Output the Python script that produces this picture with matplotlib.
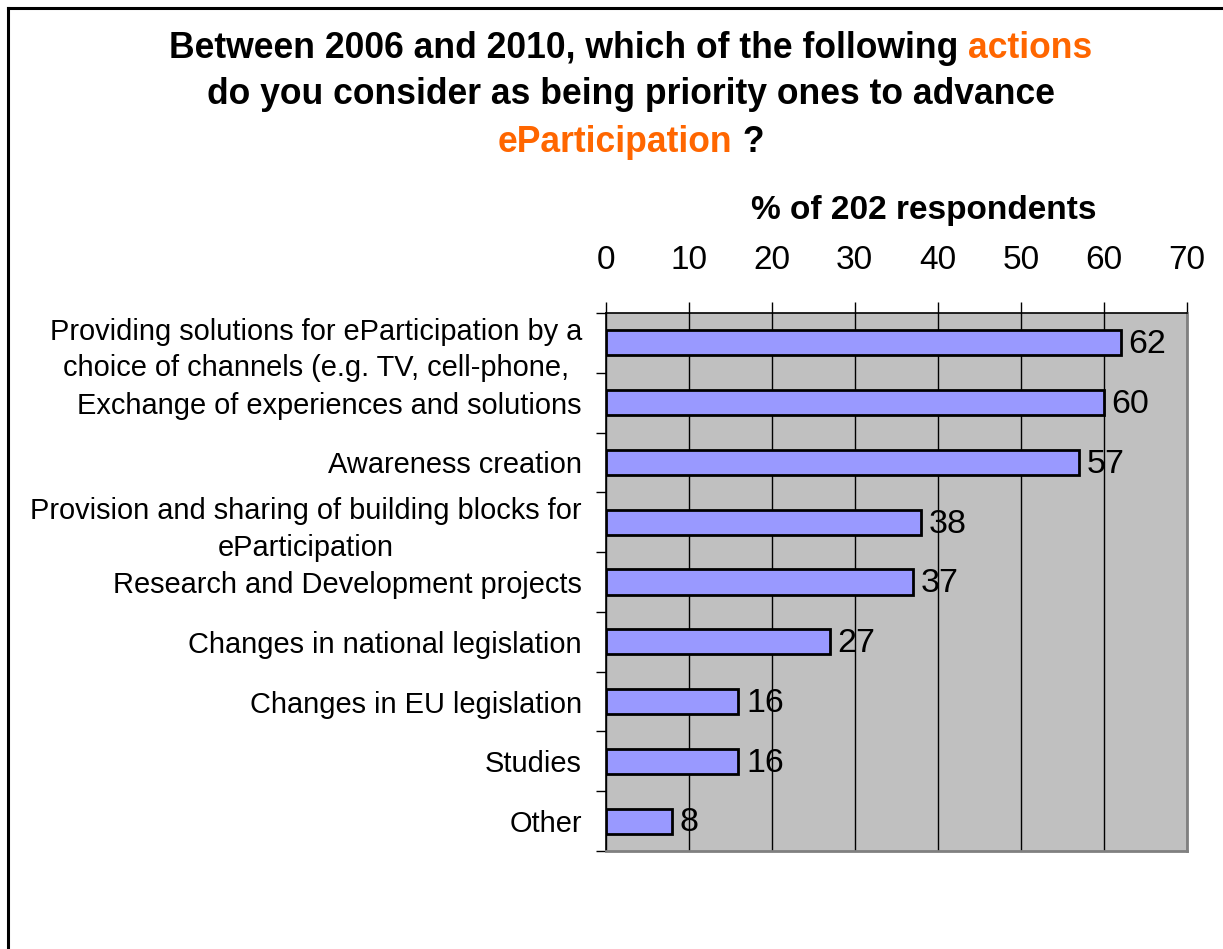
import numpy as np
import matplotlib
matplotlib.use("Agg")
import matplotlib.pyplot as plt
from matplotlib.lines import Line2D

plt.rcParams['font.family'] = ['Liberation Sans', 'DejaVu Sans']

categories = [
    "Providing solutions for eParticipation by a\nchoice of channels (e.g. TV, cell-phone,",
    "Exchange of experiences and solutions",
    "Awareness creation",
    "Provision and sharing of building blocks for\neParticipation",
    "Research and Development projects",
    "Changes in national legislation",
    "Changes in EU legislation",
    "Studies",
    "Other",
]
values = [62, 60, 57, 38, 37, 27, 16, 16, 8]
xticks = [0, 10, 20, 30, 40, 50, 60, 70]

title_lines = [
    [("Between 2006 and 2010, which of the following ", "black"), ("actions", "#FF6600")],
    [("do you consider as being priority ones to advance", "black")],
    [("eParticipation", "#FF6600"), (" ?", "black")],
]
xlabel = "% of 202 respondents"

W, H = 1223, 949
fig = plt.figure(figsize=(W / 100, H / 100), dpi=100)
fig.patch.set_facecolor("white")

# plot area in pixels
left, right, top, bottom = 605.5, 1187, 313, 851
ax = fig.add_axes([left / W, 1 - bottom / H, (right - left) / W, (bottom - top) / H])
ax.set_facecolor("#C0C0C0")

y = np.arange(len(categories))
ax.barh(y, values, height=0.42, color="#9999FF", edgecolor="black", linewidth=2, zorder=3)
for yi, v in zip(y, values):
    ax.text(v + 0.9, yi + 0.03, str(v), va="center", ha="left", fontsize=24.5, zorder=4)

ax.set_xlim(0, 70)
ax.set_ylim(len(categories) - 0.5, -0.5)
ax.set_xticks(xticks)
ax.xaxis.tick_top()
ax.tick_params(axis="x", which="major", length=8, width=1, pad=19, labelsize=24, direction="out")
ax.grid(axis="x", color="black", linewidth=1)
ax.set_axisbelow(True)

ax.set_yticks(y)
ax.set_yticklabels(categories, fontsize=20.9)
for lab in ax.get_yticklabels():
    lab.set_multialignment("center")
    lab.set_linespacing(1.39)
ax.tick_params(axis="y", which="major", length=0, pad=17)
ax.set_yticks(np.arange(-0.5, len(categories), 1), minor=True)
ax.tick_params(axis="y", which="minor", length=7, width=1, direction="out")

for s in ["top", "left"]:
    ax.spines[s].set_color("black")
    ax.spines[s].set_linewidth(1.2)
for s in ["right", "bottom"]:
    ax.spines[s].set_color("#808080")
    ax.spines[s].set_linewidth(2)

fig.text(924 / W, 1 - 211 / H, xlabel, ha="center", va="center", fontsize=24, fontweight="bold")

# title with coloured words
fig.canvas.draw()
renderer = fig.canvas.get_renderer()
cx = 631
for i, parts in enumerate(title_lines):
    ty = 1 - (48 + 47 * i) / H
    texts = [fig.text(0, ty, s, color=c, fontsize=25.6, fontweight="bold", va="center", ha="left")
             for s, c in parts]
    widths = [t.get_window_extent(renderer).width for t in texts]
    x = cx - sum(widths) / 2
    for t, w in zip(texts, widths):
        t.set_x(x / W)
        x += w

# outer frame (left and top edges)
fig.add_artist(Line2D([7.5 / W, 7.5 / W], [0, 1 - 7.5 / H], color="black", linewidth=2.2, transform=fig.transFigure))
fig.add_artist(Line2D([7.5 / W, 1], [1 - 7.5 / H, 1 - 7.5 / H], color="black", linewidth=2.2, transform=fig.transFigure))

fig.savefig("out.png", dpi=100)
